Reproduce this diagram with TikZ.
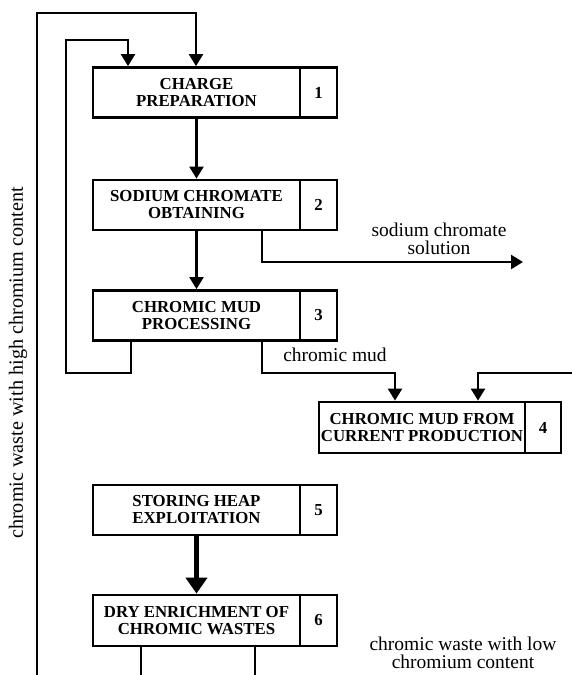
\documentclass[tikz,border=0pt]{standalone}
\usepackage{fontspec}
\setmainfont{Liberation Serif}
\usetikzlibrary{arrows.meta}
\tikzset{
  tbox/.style={draw, line width=2.8pt, minimum width=207pt, minimum height=50pt, inner sep=0pt, align=center, font=\fontsize{16.8}{17}\selectfont\bfseries},
  nbox/.style={draw, line width=2.8pt, minimum width=37pt, minimum height=50pt, inner sep=0pt, font=\fontsize{16.8}{17}\selectfont\bfseries},
  conn/.style={line width=2.4pt},
  arr/.style={line width=2.4pt, -{Triangle[width=14pt,length=12pt]}},
  thickarr/.style={line width=4.5pt, -{Triangle[width=21pt,length=16pt]}},
  lbl/.style={align=center, inner sep=0pt, font=\fontsize{19.5}{18}\selectfont}
}
\begin{document}
\begin{tikzpicture}[x=1pt,y=-1pt]
\useasboundingbox[fill=white] (0,0) rectangle (572,675);

% boxes
\node[tbox] (b1) at (196.5,92.5) {CHARGE\\PREPARATION};
\node[nbox] (n1) at (318.5,92.5) {1};
\node[tbox] (b2) at (196.5,205) {SODIUM CHROMATE\\OBTAINING};
\node[nbox] (n2) at (318.5,205) {2};
\node[tbox] (b3) at (196.5,315.5) {CHROMIC MUD\\PROCESSING};
\node[nbox] (n3) at (318.5,315.5) {3};
\node[tbox, minimum width=206pt, minimum height=51pt] (b4) at (422,427.5) {CHROMIC MUD FROM\\CURRENT PRODUCTION};
\node[nbox, minimum width=36pt, minimum height=51pt] (n4) at (543,427.5) {4};
\node[tbox] (b5) at (196.5,510) {STORING HEAP\\EXPLOITATION};
\node[nbox] (n5) at (318.5,510) {5};
\node[tbox, minimum height=51pt] (b6) at (196.5,620.5) {DRY ENRICHMENT OF\\CHROMIC WASTES};
\node[nbox, minimum height=51pt] (n6) at (318.5,620.5) {6};

% labels
\node[lbl] (lsod) at (439,238.5) {sodium chromate\\solution};
\node[lbl] (lmud) at (335,355) {chromic mud};
\node[lbl] (llow) at (463,653) {chromic waste with low\\chromium content};
\node[lbl, rotate=90, font=\fontsize{20.2}{18}\selectfont] (lhigh) at (18,363) {chromic waste with high chromium content};

% coordinates
\coordinate (outbot) at (37,675);
\coordinate (outtop) at (37,13);
\coordinate (outin) at (196,13);
\coordinate (inb) at (131,373);
\coordinate (inl) at (66,373);
\coordinate (intl) at (66,40);
\coordinate (intr) at (128,40);
\coordinate (sodb) at (262,262);
\coordinate (sodend) at (523,262);
\coordinate (mudb) at (262,373);
\coordinate (mudr) at (395,373);
\coordinate (redge) at (572,373);
\coordinate (rin) at (478,373);
\coordinate (bot1) at (141,675);
\coordinate (bot2) at (255,675);

% connectors
\draw[arr] (outbot) -- (outtop) -- (outin) -- (outin |- b1.north);
\draw[arr] (b3.south -| inb) -- (inb) -- (inl) -- (intl) -- (intr) -- (intr |- b1.north);
\draw[arr] (b1.south) -- (b2.north);
\draw[arr] (b2.south) -- (b3.north);
\draw[arr] (b2.south -| sodb) -- (sodb) -- (sodend);
\draw[arr] (b3.south -| mudb) -- (mudb) -- (mudr) -- (mudr |- b4.north);
\draw[arr] (redge) -- (rin) -- (rin |- b4.north);
\draw[thickarr] (b5.south) -- (b6.north);
\draw[conn] (b6.south -| bot1) -- (bot1);
\draw[conn] (b6.south -| bot2) -- (bot2);
\end{tikzpicture}
\end{document}
